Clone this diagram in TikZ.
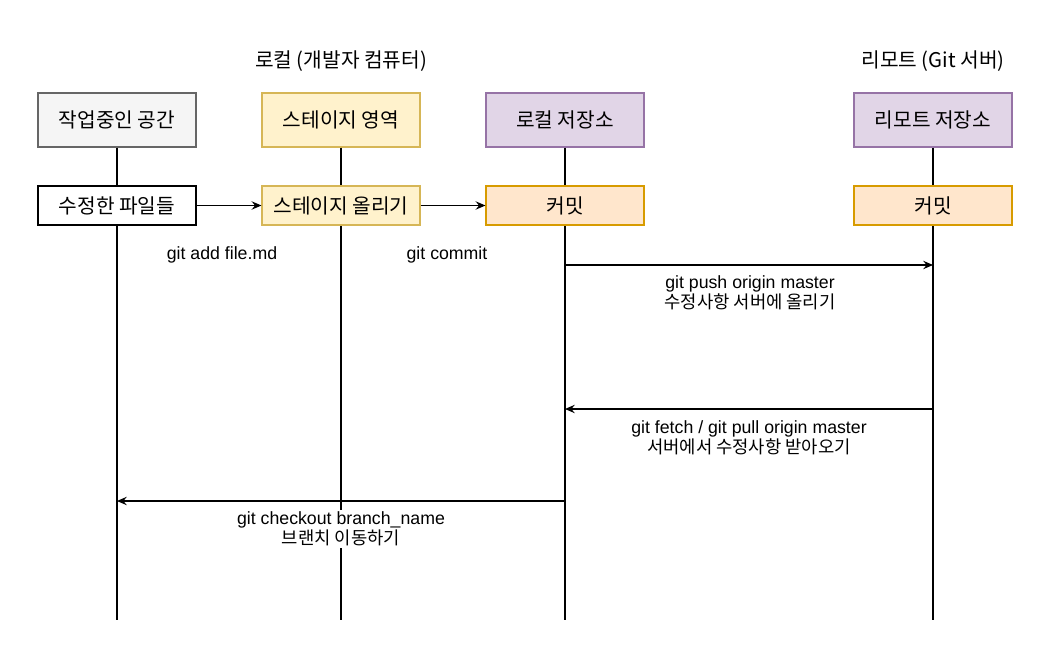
\documentclass[tikz,border=0pt]{standalone}
\usepackage{fontspec}
\setmainfont{Liberation Sans}
\newfontfamily\kr{Noto Sans CJK KR}
\usetikzlibrary{arrows.meta,positioning}

\definecolor{greyfill}{HTML}{F5F5F5}
\definecolor{greyline}{HTML}{666666}
\definecolor{yelfill}{HTML}{FFF2CC}
\definecolor{yelline}{HTML}{D6B656}
\definecolor{purfill}{HTML}{E1D5E7}
\definecolor{purline}{HTML}{9673A6}
\definecolor{orafill}{HTML}{FFE6CC}
\definecolor{oraline}{HTML}{D79B00}

\tikzset{
  head/.style={draw,line width=0.8pt,minimum width=3.95cm,minimum height=1.35cm,inner sep=0pt},
  act/.style={draw,line width=0.8pt,minimum width=3.95cm,minimum height=0.975cm,inner sep=0pt},
  life/.style={line width=1.4pt},
  msg/.style={line width=0.9pt,-{Stealth[length=7pt,width=6pt,inset=2.5pt]}},
  lbl/.style={fill=white,inner sep=1pt,align=center,font=\fontsize{12.6}{14.5}\selectfont}
}

\begin{document}
\begin{tikzpicture}[x=0.025cm,y=-0.025cm,font=\fontsize{14.4}{17}\selectfont]
\useasboundingbox (0,0) rectangle (1040,670);

\node (local) at (341,61){\kr 로컬 (개발자 컴퓨터)};
\node (remote) at (933,61){\kr 리모트 (Git 서버)};

\node[head,fill=greyfill,draw=greyline] (work) at (117,120){\kr 작업중인 공간};
\node[head,fill=yelfill,draw=yelline] (stage) at (341,120){\kr 스테이지 영역};
\node[head,fill=purfill,draw=purline] (repo) at (565,120){\kr 로컬 저장소};
\node[head,fill=purfill,draw=purline] (rrepo) at (933,120){\kr 리모트 저장소};

\coordinate (workend) at (117,620);
\coordinate (stageend) at (341,620);
\coordinate (repoend) at (565,620);
\coordinate (rrepoend) at (933,620);
\draw[life] (work) -- (workend);
\draw[life] (stage) -- (stageend);
\draw[life] (repo) -- (repoend);
\draw[life] (rrepo) -- (rrepoend);

\node[act,fill=white,draw=black] (files) at (117,205.5){\kr 수정한 파일들};
\node[act,fill=yelfill,draw=yelline] (add) at (341,205.5){\kr 스테이지 올리기};
\node[act,fill=orafill,draw=oraline] (commit) at (565,205.5){\kr 커밋};
\node[act,fill=orafill,draw=oraline] (rcommit) at (933,205.5){\kr 커밋};

\draw[msg] (files) -- (add);
\draw[msg] (add) -- (commit);
\node[lbl] (addlbl) at (222,255){git add file.md};
\node[lbl] (commitlbl) at (447,255){git commit};

\coordinate (pushA) at (565,265);
\coordinate (pushB) at (933,265);
\draw[msg] (pushA) -- (pushB);
\node[lbl] (pushlbl) at (750,293){git push origin master\\{\kr 수정사항 서버에 올리기}};

\coordinate (pullA) at (933,409);
\coordinate (pullB) at (565,409);
\draw[msg] (pullA) -- (pullB);
\node[lbl] (pulllbl) at (749,438){git fetch / git pull origin master\\{\kr 서버에서 수정사항 받아오기}};

\coordinate (coA) at (565,501);
\coordinate (coB) at (117,501);
\draw[msg] (coA) -- (coB);
\node[lbl] (colbl) at (341,529){git checkout branch\_name\\{\kr 브랜치 이동하기}};

\end{tikzpicture}
\end{document}
